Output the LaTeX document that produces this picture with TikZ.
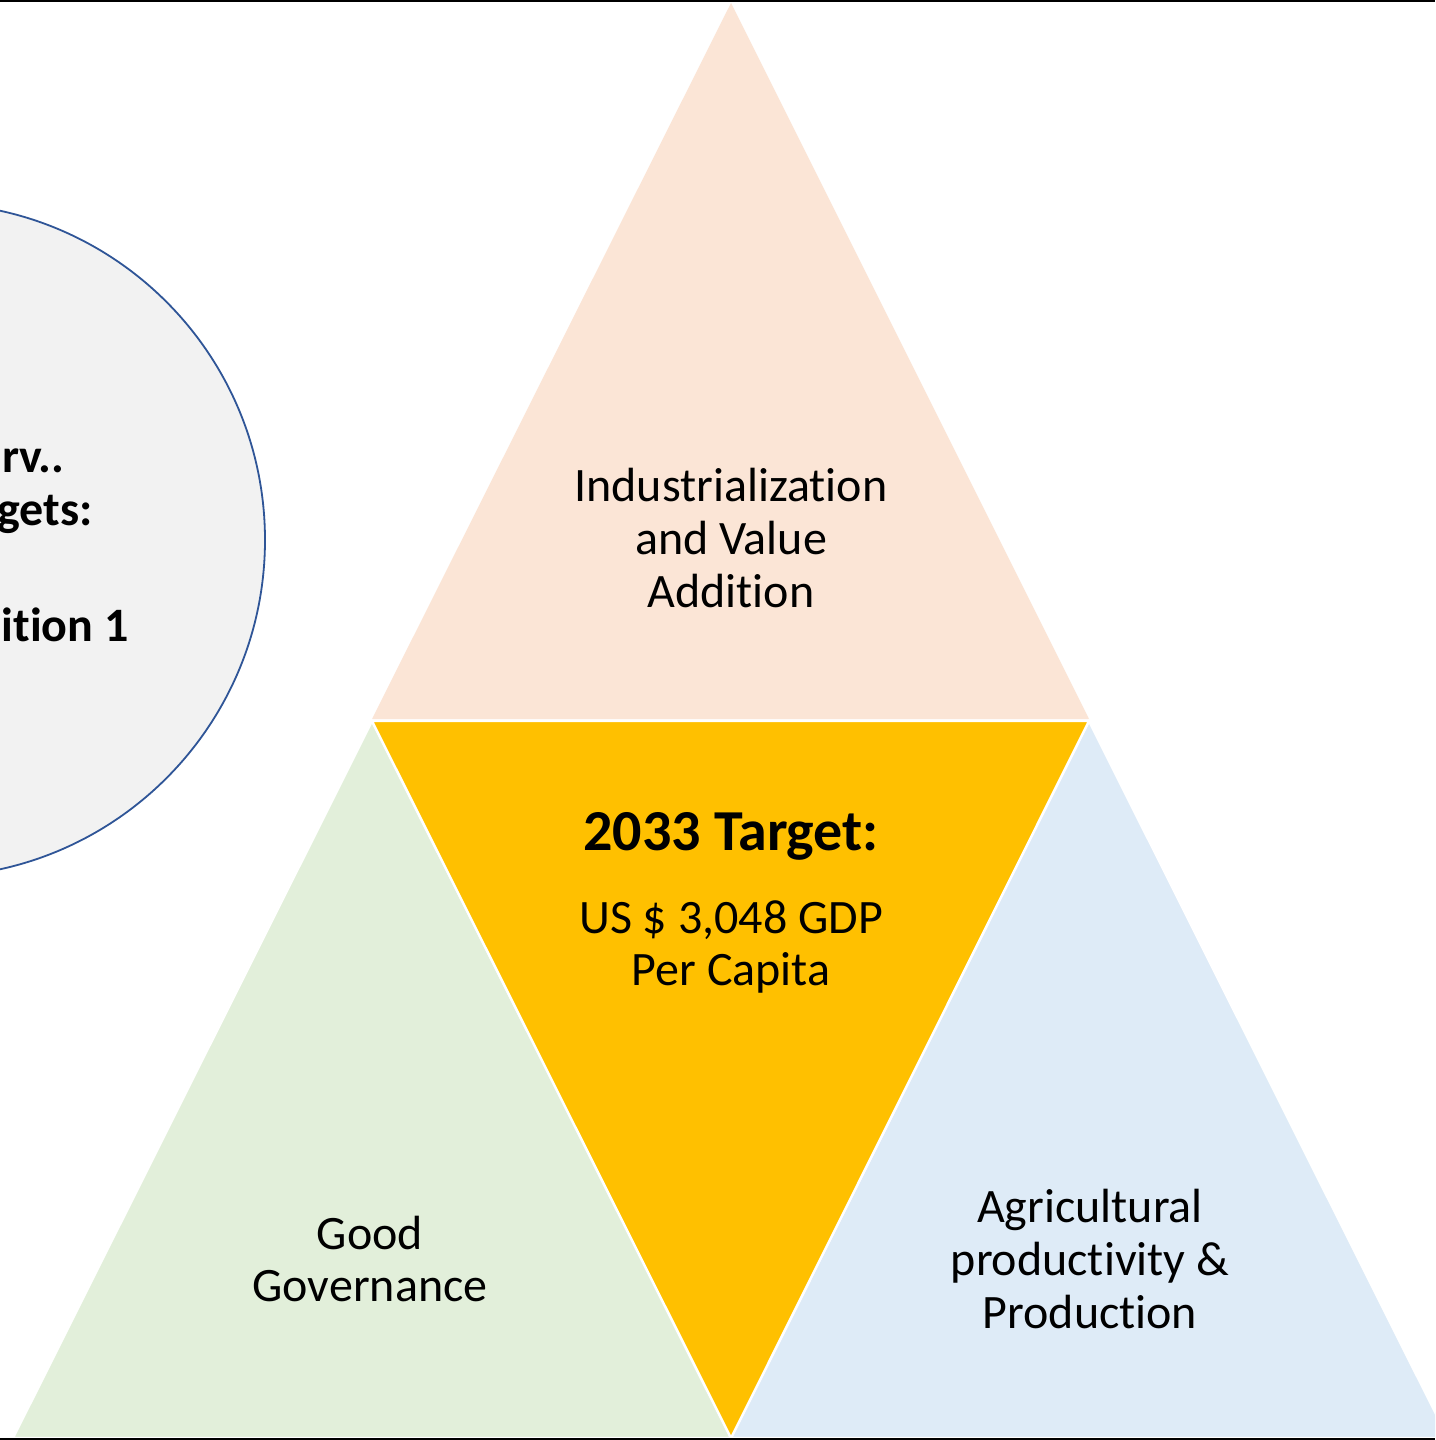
\documentclass[tikz,border=0pt]{standalone}
\usepackage{fontspec}
\setmainfont[RawFeature=-liga]{Carlito}
\definecolor{peach}{HTML}{FBE5D6}
\definecolor{gold}{HTML}{FFC000}
\definecolor{lgreen}{HTML}{E2EFDA}
\definecolor{lblue}{HTML}{DEEBF7}
\definecolor{cgray}{HTML}{F2F2F2}
\definecolor{cblue}{HTML}{2F5597}
\begin{document}
\begin{tikzpicture}[x=0.5pt,y=-0.5pt,
  tri/.style={draw=white,line width=1.2pt,line join=miter},
  lbl/.style={align=center,font=\fontsize{24}{26.3}\selectfont,inner sep=0pt},
  clbl/.style={anchor=base east,font=\fontsize{24}{26.3}\selectfont\bfseries,inner sep=0pt}]
\useasboundingbox (0,0) rectangle (1435,1440);
\clip (0,0) rectangle (1435,1440);
\fill[white] (0,0) rectangle (1435,1440);
% circle
\draw[fill=cgray,draw=cblue,line width=0.9pt] (-72,540) ellipse [x radius=337,y radius=337];
\node[clbl] (c1) at (65,472) {rv..};
\node[clbl] (c2) at (93,525) {gets:};
\node[clbl] (c3) at (129,641) {ition 1};
% triangles
\fill[peach] (731,3) -- (1089,719) -- (372,719) -- cycle;
\path[tri,fill=lgreen] (372,721) -- (731,1438) -- (13,1438) -- cycle;
\path[tri,fill=lblue] (1089,721) -- (1448,1438) -- (731,1438) -- cycle;
\path[tri,fill=gold] (372,721) -- (1089,721) -- (731,1438) -- cycle;
% labels
\node[lbl] (ind) at (731,538) {Industrialization\\and Value\\Addition};
\node[align=center,inner sep=0pt,font=\fontsize{29}{34}\selectfont\bfseries] (tgt) at (731,836) {2033 Target:};
\node[lbl] (gdp) at (731,947) {US \$ 3,048 GDP\\Per Capita};
\node[lbl] (gov) at (370,1259) {Good\\Governance};
\node[lbl] (agr) at (1090,1259) {Agricultural\\productivity \&\\Production};
% borders
\draw[black,line width=1pt] (0,0.5) -- (1435,0.5);
\draw[black,line width=1.2pt] (0,1439) -- (1435,1439);
\end{tikzpicture}
\end{document}
